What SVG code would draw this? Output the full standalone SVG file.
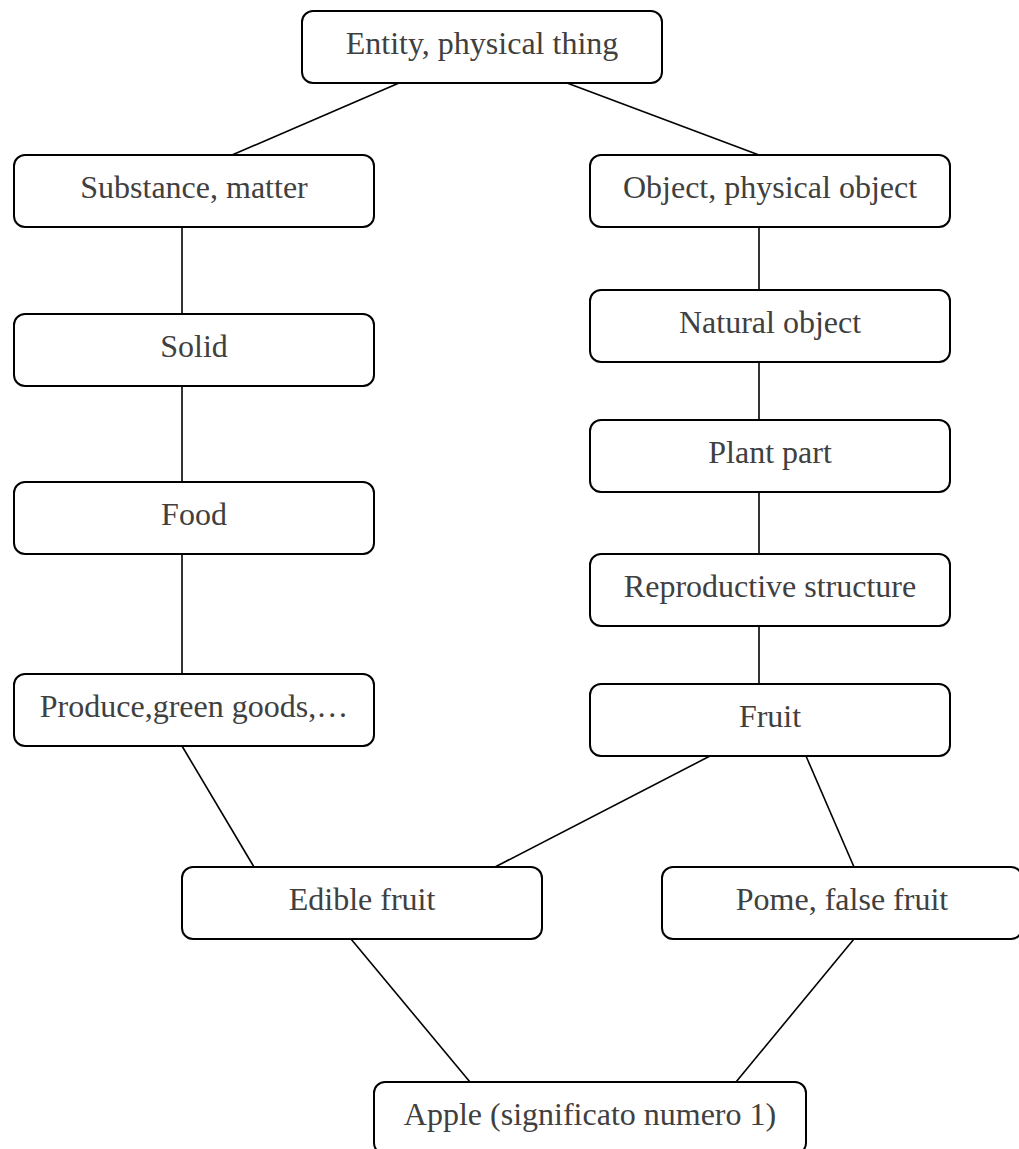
<svg xmlns="http://www.w3.org/2000/svg" width="1019" height="1149" viewBox="0 0 1019 1149">
  <style>
    .box { fill: #ffffff; stroke: #000000; stroke-width: 2; }
    .lbl { font-family: "Liberation Serif", "Times New Roman", serif; font-size: 32px; fill: #404040; text-anchor: middle; }
    .edge { stroke: #000000; stroke-width: 1.6; fill: none; }
  </style>
  <rect x="0" y="0" width="1019" height="1149" fill="#ffffff"/>

  <!-- connectors -->
  <g id="connectors">
    <line class="edge" x1="399" y1="83" x2="232" y2="155"/>
    <line class="edge" x1="567" y1="83" x2="759" y2="155"/>
    <line class="edge" x1="182" y1="227" x2="182" y2="314"/>
    <line class="edge" x1="182" y1="386" x2="182" y2="482"/>
    <line class="edge" x1="182" y1="554" x2="182" y2="674"/>
    <line class="edge" x1="759" y1="227" x2="759" y2="290"/>
    <line class="edge" x1="759" y1="362" x2="759" y2="420"/>
    <line class="edge" x1="759" y1="492" x2="759" y2="554"/>
    <line class="edge" x1="759" y1="626" x2="759" y2="684"/>
    <line class="edge" x1="182" y1="746" x2="254" y2="867"/>
    <line class="edge" x1="710" y1="756" x2="495" y2="867"/>
    <line class="edge" x1="806" y1="756" x2="854" y2="867"/>
    <line class="edge" x1="351" y1="939" x2="470" y2="1082"/>
    <line class="edge" x1="854" y1="939" x2="736" y2="1082"/>
  </g>

  <!-- nodes -->
  <g id="entity">
    <rect class="box" x="302" y="11" width="360" height="72" rx="11"/>
    <text class="lbl" x="482" y="54">Entity, physical thing</text>
  </g>
  <g id="substance">
    <rect class="box" x="14" y="155" width="360" height="72" rx="11"/>
    <text class="lbl" x="194" y="198">Substance, matter</text>
  </g>
  <g id="solid">
    <rect class="box" x="14" y="314" width="360" height="72" rx="11"/>
    <text class="lbl" x="194" y="357">Solid</text>
  </g>
  <g id="food">
    <rect class="box" x="14" y="482" width="360" height="72" rx="11"/>
    <text class="lbl" x="194" y="525">Food</text>
  </g>
  <g id="produce">
    <rect class="box" x="14" y="674" width="360" height="72" rx="11"/>
    <text class="lbl" x="194" y="717">Produce,green goods,…</text>
  </g>
  <g id="object">
    <rect class="box" x="590" y="155" width="360" height="72" rx="11"/>
    <text class="lbl" x="770" y="198">Object, physical object</text>
  </g>
  <g id="natural-object">
    <rect class="box" x="590" y="290" width="360" height="72" rx="11"/>
    <text class="lbl" x="770" y="333">Natural object</text>
  </g>
  <g id="plant-part">
    <rect class="box" x="590" y="420" width="360" height="72" rx="11"/>
    <text class="lbl" x="770" y="463">Plant part</text>
  </g>
  <g id="reproductive-structure">
    <rect class="box" x="590" y="554" width="360" height="72" rx="11"/>
    <text class="lbl" x="770" y="597">Reproductive structure</text>
  </g>
  <g id="fruit">
    <rect class="box" x="590" y="684" width="360" height="72" rx="11"/>
    <text class="lbl" x="770" y="727">Fruit</text>
  </g>
  <g id="edible-fruit">
    <rect class="box" x="182" y="867" width="360" height="72" rx="11"/>
    <text class="lbl" x="362" y="910">Edible fruit</text>
  </g>
  <g id="pome">
    <rect class="box" x="662" y="867" width="360" height="72" rx="11"/>
    <text class="lbl" x="842" y="910">Pome, false fruit</text>
  </g>
  <g id="apple">
    <rect class="box" x="374" y="1082" width="432" height="72" rx="11"/>
    <text class="lbl" x="590" y="1125">Apple (significato numero 1)</text>
  </g>
</svg>
